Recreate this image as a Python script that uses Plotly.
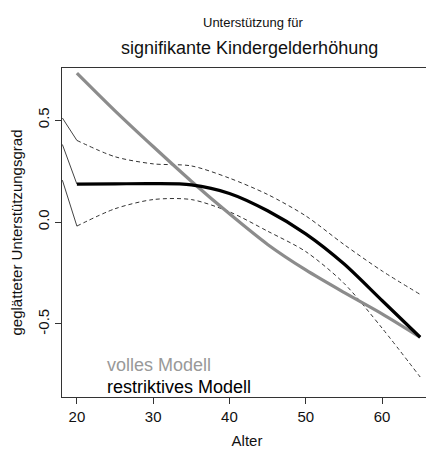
import plotly.graph_objects as go

# Data
ages = [20, 25, 30, 35, 40, 45, 50, 55, 60, 65]
volles = [0.73, 0.545, 0.37, 0.20, 0.04, -0.11, -0.235, -0.345, -0.45, -0.565]
restriktiv = [0.186, 0.187, 0.188, 0.182, 0.14, 0.055, -0.058, -0.205, -0.385, -0.565]
restriktiv_upper = [0.40, 0.32, 0.285, 0.275, 0.215, 0.135, 0.03, -0.11, -0.24, -0.355]
restriktiv_lower = [-0.02, 0.065, 0.11, 0.11, 0.05, -0.045, -0.145, -0.30, -0.52, -0.76]

# Short lead-in segments at the left edge (age ~18)
edge_age = 18.1
edge_upper = 0.51
edge_mid = 0.38
edge_lower = 0.205

x_ticks = [20, 30, 40, 50, 60]
y_ticks = [-0.5, 0.0, 0.5]
y_tick_labels = ["-0.5", "0.0", "0.5"]

FONT = "Liberation Sans, Arial, Helvetica, sans-serif"

fig = go.Figure()

# lead-in thin segments
for end_val, start_val in [(restriktiv_upper[0], edge_upper),
                           (restriktiv[0], edge_mid),
                           (restriktiv_lower[0], edge_lower)]:
    fig.add_trace(go.Scatter(x=[edge_age, ages[0]], y=[start_val, end_val],
                             mode="lines", line=dict(color="#444444", width=1),
                             showlegend=False, hoverinfo="skip"))

# confidence bands (dashed)
for band in [restriktiv_upper, restriktiv_lower]:
    fig.add_trace(go.Scatter(x=ages, y=band, mode="lines",
                             line=dict(color="#333333", width=1, dash="4px,3px", shape="spline", smoothing=0.8),
                             showlegend=False, hoverinfo="skip"))

# volles Modell (gray thick)
fig.add_trace(go.Scatter(x=ages, y=volles, mode="lines",
                         line=dict(color="#8c8c8c", width=3.2, shape="spline", smoothing=0.8),
                         name="volles Modell", showlegend=False))

# restriktives Modell (black thick)
fig.add_trace(go.Scatter(x=ages, y=restriktiv, mode="lines",
                         line=dict(color="#000000", width=3.2, shape="spline", smoothing=0.8),
                         name="restriktives Modell", showlegend=False))

fig.update_layout(
    width=426, height=445,
    margin=dict(l=54, r=2, t=60, b=56),
    paper_bgcolor="white", plot_bgcolor="white",
    font=dict(family=FONT, color="#111111", size=15),
    showlegend=False,
)

fig.update_xaxes(
    range=[18.05, 66.55], tickvals=x_ticks, ticks="outside", ticklen=6,
    tickcolor="#333333", showgrid=False, zeroline=False, automargin=False,
    showline=True, linecolor="#333333", linewidth=1, mirror=True,
    tickfont=dict(size=15, family=FONT),
    title=dict(text="Alter", font=dict(size=15, family=FONT), standoff=11),
)
fig.update_yaxes(
    range=[-0.858, 0.755], tickvals=y_ticks, ticktext=y_tick_labels,
    tickangle=-90, ticks="outside", ticklen=6, tickcolor="#333333",
    showgrid=False, zeroline=False, automargin=False,
    showline=True, linecolor="#333333", linewidth=1, mirror=True,
    tickfont=dict(size=15, family=FONT),
    title=dict(text="geglätteter Unterstützungsgrad", font=dict(size=15, family=FONT), standoff=12),
)

# Titles
fig.add_annotation(text="Unterstützung für", xref="paper", yref="paper",
                   x=0.516, y=1.0, yshift=46, showarrow=False,
                   font=dict(size=13, family=FONT, color="#111111"), yanchor="middle")
fig.add_annotation(text="signifikante Kindergelderhöhung", xref="paper", yref="paper",
                   x=0.508, y=1.0, yshift=20, showarrow=False,
                   font=dict(size=18, family=FONT, color="#111111"), yanchor="middle")

# Legend texts
fig.add_annotation(text="volles Modell", xref="paper", yref="paper",
                   x=0.116, y=0.097, showarrow=False, xanchor="left", yanchor="middle",
                   font=dict(size=18, family=FONT, color="#999999"))
fig.add_annotation(text="restriktives Modell", xref="paper", yref="paper",
                   x=0.116, y=0.030, showarrow=False, xanchor="left", yanchor="middle",
                   font=dict(size=18, family=FONT, color="#000000"))

fig.write_html("out.html")
